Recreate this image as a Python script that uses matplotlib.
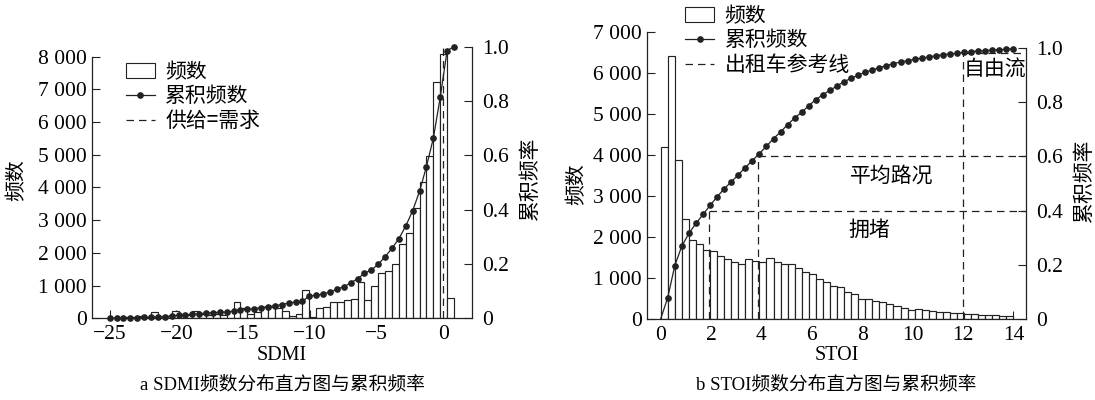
#!/usr/bin/env python3
import matplotlib
matplotlib.use('Agg')
import matplotlib.pyplot as plt
import numpy as np
from matplotlib.lines import Line2D
from matplotlib.patches import Patch
from matplotlib.ticker import FuncFormatter

plt.rcParams['font.family'] = ['Liberation Serif', 'Noto Sans CJK SC']
plt.rcParams['axes.unicode_minus'] = True

# ---- panel a: SDMI (50 bins between SDMI_MIN and SDMI_MAX)
SDMI_MIN, SDMI_MAX = -25.0, 0.8
sdmi_counts = [
    0, 0, 30, 40, 80, 40, 190, 60, 70, 220,
    100, 90, 220, 120, 110, 130, 110, 20, 490, 300,
    120, 200, 350, 360, 310, 230, 70, 130, 870, 50,
    330, 360, 490, 490, 560, 580, 1100, 550, 990, 1380,
    1460, 1650, 2280, 2600, 3360, 4180, 4950, 7230, 8070, 620,
]
sdmi_cum = [
    0, 0, 0, 0, 0.0025, 0.0037, 0.0037, 0.0061, 0.0061, 0.0086,
    0.0123, 0.0123, 0.0147, 0.0172, 0.0184, 0.0209, 0.0221, 0.0233, 0.0258, 0.0319,
    0.0331, 0.0356, 0.0393, 0.0429, 0.0466, 0.0503, 0.0564, 0.0601, 0.0626, 0.0822,
    0.0847, 0.0896, 0.0969, 0.1067, 0.1166, 0.1301, 0.1460, 0.1656, 0.1779, 0.1988,
    0.2270, 0.2577, 0.2933, 0.3399, 0.3963, 0.4675, 0.5583, 0.6626, 0.8135, 0.9853,
    1.0,
]
sdmi_ref = 0.0

# ---- panel b: STOI (50 bins between STOI_MIN and STOI_MAX)
STOI_MIN, STOI_MAX = 0.0, 14.0
stoi_counts = [
    4208, 6431, 3883, 2442, 1929, 1823, 1685, 1660, 1538, 1457,
    1400, 1335, 1465, 1424, 1400, 1498, 1384, 1343, 1335, 1237,
    1140, 1099, 985, 895, 806, 773, 651, 602, 497, 497,
    440, 407, 374, 317, 260, 220, 236, 212, 195, 179,
    163, 155, 155, 130, 114, 106, 98, 90, 81, 73,
]
stoi_cum = [
    0.0, 0.0786, 0.1966, 0.2690, 0.3157, 0.3526, 0.3857, 0.4189, 0.4509, 0.4803,
    0.5061, 0.5319, 0.5590, 0.5848, 0.6106, 0.6376, 0.6658, 0.6904, 0.7174, 0.7420,
    0.7629, 0.7875, 0.8096, 0.8280, 0.8440, 0.8600, 0.8759, 0.8882, 0.9005, 0.9103,
    0.9189, 0.9275, 0.9349, 0.9423, 0.9484, 0.9533, 0.9582, 0.9631, 0.9668, 0.9717,
    0.9754, 0.9779, 0.9803, 0.9840, 0.9865, 0.9889, 0.9902, 0.9926, 0.9939, 0.9951,
    0.9975,
]
# taxi reference: (STOI, cumulative) thresholds
stoi_ref_x = [1.92, 3.87, 12.0]
stoi_ref_y = [0.4, 0.6, 0.983]
stoi_zone_labels = ['拥堵', '平均路况', '自由流']
stoi_zone_x = [8.3, 9.15, 13.27]
stoi_zone_y = [0.33, 0.53, 0.92]

W, H = 1095, 400
INK = '#222222'
CJK = ['Noto Sans CJK SC', 'DejaVu Sans']


def thousands(v, _):
    return f'{int(round(v)):,}'.replace(',', ' ')


def frac(v, _):
    return '0' if abs(v) < 1e-9 else f'{v:.1f}'


def style_axes(ax, ax2, ytop_spine):
    for a in (ax, ax2):
        a.spines['top'].set_visible(False)
        for s in a.spines.values():
            s.set_linewidth(0.9)
            s.set_color(INK)
        a.tick_params(direction='in', length=6, width=0.8, colors=INK,
                      labelsize=15.5, labelcolor='black')
    ax.spines['right'].set_visible(False)
    ax2.spines['left'].set_visible(False)
    ax2.spines['bottom'].set_visible(False)
    ax.spines['left'].set_bounds(0, ytop_spine)
    ax2.spines['right'].set_bounds(0, 1.0)
    ax.tick_params(axis='x', pad=5)
    ax.tick_params(axis='y', pad=4)
    ax2.tick_params(axis='y', pad=7)
    ax.yaxis.set_major_formatter(FuncFormatter(thousands))
    ax2.yaxis.set_major_formatter(FuncFormatter(frac))
    ax2.set_yticks(np.arange(0, 1.01, 0.2))


def draw_hist(ax, ax2, lo, hi, counts, cum, marker_from=0):
    edges = np.linspace(lo, hi, len(counts) + 1)
    ax.bar(edges[:-1], counts, width=np.diff(edges), align='edge',
           color='white', edgecolor=INK, linewidth=0.85, zorder=2)
    ax2.plot(edges, cum, '-', color=INK, lw=0.9, clip_on=False, zorder=3)
    ax2.plot(edges[marker_from:], cum[marker_from:], 'o', color=INK, ms=3.8,
             clip_on=False, zorder=4)


def add_legend(fig, x, y, labels, dash_label):
    handles = [
        Patch(facecolor='white', edgecolor=INK, linewidth=0.8),
        Line2D([], [], color=INK, lw=0.9, marker='o', ms=3.8),
        Line2D([], [], color=INK, lw=0.9, dashes=(6, 4)),
    ]
    fig.legend(handles, labels + [dash_label], loc='upper left',
               bbox_to_anchor=(x / W, 1 - y / H), frameon=False,
               prop={'family': CJK, 'size': 15}, handlelength=1.4,
               handletextpad=0.5, labelspacing=0.12, borderpad=0,
               borderaxespad=0)


fig = plt.figure(figsize=(W / 100, H / 100), dpi=100)

# ---------------- panel a
ax = fig.add_axes([92.3 / W, 1 - 318.3 / H, (472 - 92.3) / W, (318.3 - 46.7) / H])
ax2 = ax.twinx()
draw_hist(ax, ax2, SDMI_MIN, SDMI_MAX, sdmi_counts, sdmi_cum)
ax2.plot([sdmi_ref, sdmi_ref], [0, 1.0], color=INK, lw=0.9, dashes=(6, 4), zorder=5)
ax.set_xlim(-26.3, 2.15)
ax.set_ylim(0, 8000 * 271.6 / 261.6)
ax2.set_ylim(0, 1.0)
ax.set_xticks([-25, -20, -15, -10, -5, 0])
ax.set_yticks(np.arange(0, 8001, 1000))
style_axes(ax, ax2, 8000)
ax.set_xlabel('SDMI', fontsize=14.5, labelpad=1)
ax.set_ylabel('频数', family=CJK, fontsize=15)
ax.yaxis.set_label_coords(-0.172, 0.51)
ax2.set_ylabel('累积频率', family=CJK, fontsize=15)
ax2.yaxis.set_label_coords(1.124, 0.515)
fig.text(282 / W, 1 - 385 / H, 'a SDMI频数分布直方图与累积频率', ha='center',
         va='center', fontsize=13.5)
add_legend(fig, 125.7, 61, ['频数', '累积频数'], '供给=需求')

# ---------------- panel b
bx = fig.add_axes([647.3 / W, 1 - 319 / H, (1026 - 647.3) / W, (319 - 32.3) / H])
bx2 = bx.twinx()
draw_hist(bx, bx2, STOI_MIN, STOI_MAX, stoi_counts, stoi_cum, marker_from=1)
xr = 14.5
for rx, ry in zip(stoi_ref_x, stoi_ref_y):
    bx2.plot([rx, rx], [0, ry], color=INK, lw=0.9, dashes=(6, 4), zorder=5)
    bx2.plot([rx, xr], [ry, ry], color=INK, lw=0.9, dashes=(6, 4), zorder=5)
for lab, tx, ty in zip(stoi_zone_labels, stoi_zone_x, stoi_zone_y):
    bx2.text(tx, ty, lab, ha='center', va='center', family=CJK, fontsize=15)
bx.set_xlim(-0.53, xr)
bx.set_ylim(0, 7000)
bx2.set_ylim(0, 286.7 / 271.0)
bx.set_xticks(np.arange(0, 15, 2))
bx.set_yticks(np.arange(0, 7001, 1000))
style_axes(bx, bx2, 7000)
bx.set_xlabel('STOI', fontsize=14.5, labelpad=1)
bx.set_ylabel('频数', family=CJK, fontsize=15)
bx.yaxis.set_label_coords(-0.159, 0.47)
bx2.set_ylabel('累积频率', family=CJK, fontsize=15)
bx2.yaxis.set_label_coords(1.124, 0.485)
fig.text(836 / W, 1 - 385 / H, 'b STOI频数分布直方图与累积频率', ha='center',
         va='center', fontsize=13.5)
add_legend(fig, 685, 5, ['频数', '累积频数'], '出租车参考线')

fig.savefig('out.png', dpi=100)
